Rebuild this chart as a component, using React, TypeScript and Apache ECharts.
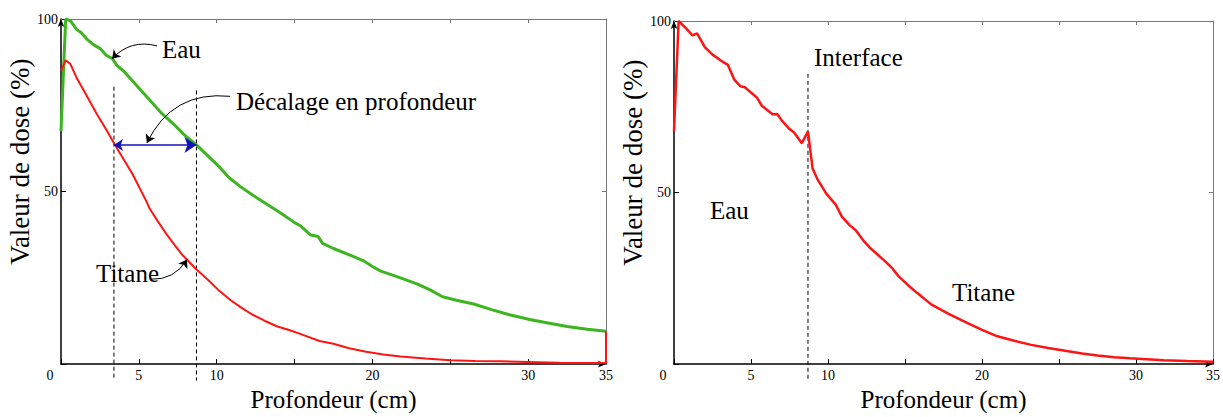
import React, { useEffect, useRef } from "react";
import * as echarts from "echarts";

// ---- data (depth in cm, dose in %) ----
const eauLeft: [number, number][] = [
  [0, 67.5], [0.3, 100], [0.6, 99.5], [1.0, 97], [1.3, 96], [1.7, 94], [2.1, 92.5], [2.5, 91.5],
  [2.9, 89.5], [3.3, 88.5], [3.6, 86.5], [4.0, 85], [4.6, 82], [5.2, 79], [5.9, 75.5], [6.5, 72.5],
  [7.2, 69.7], [7.9, 66.5], [8.7, 63.5], [9.4, 60.5], [10.2, 57], [10.8, 54], [11.5, 51.5], [12.3, 49],
  [13.0, 47], [13.5, 45.5], [14.2, 43.5], [15.0, 41], [15.4, 40], [16.0, 37.5], [16.5, 37], [16.8, 35],
  [17.5, 33.5], [18.6, 31.5], [19.4, 30], [20.0, 28.3], [20.5, 27], [21.8, 25], [22.9, 23.2], [23.7, 21.5],
  [24.5, 19.5], [25.4, 18.5], [26.5, 17.4], [27.7, 15.7], [28.8, 14.3], [30.1, 12.9], [31.2, 12],
  [32.5, 10.9], [33.8, 10.1], [35, 9.5],
];
const titaneLeft: [number, number][] = [
  [0, 85], [0.3, 88], [0.6, 87], [1.0, 83], [1.5, 79], [2.3, 72.5], [2.9, 68], [3.5, 63.3], [4.0, 59.5],
  [4.6, 55], [5.5, 47], [5.7, 45], [6.2, 41.5], [6.8, 37.5], [7.3, 34.5], [7.8, 31.6], [8.7, 27.4],
  [9.4, 24.6], [10.1, 21.5], [10.9, 18.5], [11.6, 16.3], [12.3, 14.3], [13.1, 12.5], [13.9, 10.9],
  [14.7, 9.8], [15.4, 8.7], [16.6, 6.7], [17.5, 5.9], [18.5, 4.6], [19.6, 3.6], [20.7, 2.8], [21.8, 2.2],
  [23.4, 1.6], [25, 1.1], [26.6, 0.9], [28.2, 0.8], [30, 0.6], [32, 0.4], [34.6, 0.3], [35, 0.3], [35, 9.5],
];
const eauTitaneRight: [number, number][] = [
  [0, 67.8], [0.3, 100], [0.8, 97.8], [1.2, 95.8], [1.5, 96.4], [2.0, 92.4], [2.5, 90.2], [3.2, 88],
  [3.5, 87.2], [3.9, 83], [4.3, 81], [4.6, 80.7], [5.4, 77.6], [5.7, 75.3], [6.4, 72.8], [6.7, 72.9],
  [7.0, 71], [7.5, 68.5], [7.8, 67.5], [8.3, 64.4], [8.7, 67.8], [9.0, 57], [9.3, 54], [9.9, 49.6],
  [10.5, 46.5], [10.9, 43], [11.4, 40.5], [11.8, 39], [12.3, 36], [12.7, 34], [13.2, 32], [13.7, 30],
  [14.2, 27.8], [14.6, 25.5], [15.2, 23], [15.8, 20.7], [16.7, 17.4], [17.8, 14.7], [18.9, 12.3],
  [20.0, 10], [21, 8.1], [22.1, 6.8], [23.2, 5.6], [24.3, 4.7], [25.4, 3.9], [26.5, 3.1], [27.5, 2.5],
  [28.6, 2.0], [29.6, 1.7], [30.7, 1.4], [31.8, 1.1], [33.3, 0.9], [35, 0.7],
];
// dashed guide lines [depth, top value, bottom value]
const guidesLeft: [number, number, number][] = [[3.4, 80.4, -4.8], [8.7, 79.3, -4.8]];
const guidesRight: [number, number, number][] = [[8.7, 84.6, -5]];
// depth shift arrow (from, to, dose)
const shiftArrow: [number, number, number] = [3.4, 8.7, 63.5];
// annotation pointer arrows: [[x1,y1],[x2,y2]], curveness
const pointersLeft: { coords: [number, number][]; curv: number }[] = [
  { coords: [[6.17, 92.2], [3.28, 88.5]], curv: -0.3 },
  { coords: [[10.85, 77.6], [5.52, 64.1]], curv: -0.35 },
  { coords: [[5.72, 24.6], [8.09, 30.3]], curv: -0.3 },
];
const xTickLabels = [0, 5, 10, 20, 30, 35];
const yTickLabels = [50, 100];

const FONT = "Liberation Serif, Times New Roman, serif";
const GREEN = "#3cb521";
const RED = "#ff1414";

function makeAxes(gi: number) {
  const bottomX = {
    type: "value", gridIndex: gi, min: 0, max: 35, interval: 5, position: "bottom",
    name: "Profondeur (cm)", nameLocation: "middle", nameGap: 18,
    nameTextStyle: { fontFamily: FONT, fontSize: 25, color: "#000" },
    axisLine: { onZero: false, lineStyle: { color: "#000", width: 1.5 }, symbol: ["none", "arrow"], symbolSize: [5, 8] },
    axisTick: { show: true, inside: true, length: 5, lineStyle: { color: "#000" } },
    axisLabel: {
      fontFamily: FONT, fontSize: 14, color: "#000", margin: 4,
      formatter: (v: number) => (xTickLabels.includes(v) ? (v === 0 ? "{z|0}" : String(v)) : ""),
      rich: { z: { fontFamily: FONT, fontSize: 14, color: "#000", padding: [0, 22, 0, 0] } },
    },
    splitLine: { show: false },
  };
  const topX = {
    type: "value", gridIndex: gi, min: 0, max: 35, interval: 5, position: "top",
    axisLine: { onZero: false, lineStyle: { color: "#777", width: 1 } },
    axisTick: { show: true, inside: true, length: 4, lineStyle: { color: "#777" } },
    axisLabel: { show: false }, splitLine: { show: false },
  };
  const leftY = {
    type: "value", gridIndex: gi, min: 0, max: 100, interval: 50, position: "left",
    name: "Valeur de dose (%)", nameLocation: "middle", nameGap: 28,
    nameTextStyle: { fontFamily: FONT, fontSize: 27, color: "#000", padding: [0, 0, 0, 60] },
    axisLine: { onZero: false, lineStyle: { color: "#000", width: 1.5 }, symbol: ["none", "arrow"], symbolSize: [5, 8] },
    axisTick: { show: true, inside: true, length: 5, lineStyle: { color: "#000" } },
    axisLabel: {
      fontFamily: FONT, fontSize: 14, color: "#000", margin: 3,
      formatter: (v: number) => (yTickLabels.includes(v) ? String(v) : ""),
    },
    splitLine: { show: false },
  };
  const rightY = {
    type: "value", gridIndex: gi, min: 0, max: 100, interval: 50, position: "right",
    axisLine: { onZero: false, lineStyle: { color: "#777", width: 1 } },
    axisTick: { show: true, inside: true, length: 4, lineStyle: { color: "#777" } },
    axisLabel: { show: false }, splitLine: { show: false },
  };
  return { x: [bottomX, topX], y: [leftY, rightY] };
}

function guideSeries(g: [number, number, number][], xi: number, yi: number) {
  return g.map(([x, top, bot]) => ({
    type: "line", xAxisIndex: xi, yAxisIndex: yi, clip: false, symbol: "none", silent: true,
    data: [[x, top], [x, bot]],
    lineStyle: { color: "#000", width: 1, type: [4, 3] }, z: 1,
  }));
}

function textEl(text: string, x: number, y: number) {
  return {
    type: "text", x, y,
    style: { text, fontFamily: FONT, fontSize: 25, fill: "#000", textAlign: "left", textVerticalAlign: "middle" },
  };
}

export default function App() {
  const ref = useRef<HTMLDivElement>(null);
  useEffect(() => {
    document.body.style.margin = "0";
    if (!ref.current) return;
    const chart = echarts.init(ref.current, undefined, { renderer: "svg" });
    const a0 = makeAxes(0);
    const a1 = makeAxes(1);
    const option: any = {
      animation: false,
      backgroundColor: "#fff",
      textStyle: { fontFamily: FONT },
      grid: [
        { left: 61, right: 617, top: 19, bottom: 41 },
        { left: 674, right: 7, top: 21, bottom: 40 },
      ],
      xAxis: [...a0.x, ...a1.x],
      yAxis: [...a0.y, ...a1.y],
      series: [
        ...guideSeries(guidesLeft, 0, 0),
        ...guideSeries(guidesRight, 2, 2),
        {
          type: "line", name: "Eau", xAxisIndex: 0, yAxisIndex: 0, data: eauLeft, symbol: "none",
          lineStyle: { color: GREEN, width: 3 }, z: 3,
        },
        {
          type: "line", name: "Titane", xAxisIndex: 0, yAxisIndex: 0, data: titaneLeft, symbol: "none",
          lineStyle: { color: RED, width: 2 }, z: 3,
        },
        {
          type: "line", name: "Eau / Titane", xAxisIndex: 2, yAxisIndex: 2, data: eauTitaneRight, symbol: "none",
          lineStyle: { color: RED, width: 2.5 }, z: 3,
        },
        {
          type: "lines", coordinateSystem: "cartesian2d", xAxisIndex: 0, yAxisIndex: 0, z: 5,
          symbol: ["arrow", "arrow"], symbolSize: [9, 12],
          lineStyle: { color: "#1414b4", width: 1.5, opacity: 1 },
          data: [{ coords: [[shiftArrow[0], shiftArrow[2]], [shiftArrow[1], shiftArrow[2]]] }],
        },
        {
          type: "lines", coordinateSystem: "cartesian2d", xAxisIndex: 0, yAxisIndex: 0, z: 5,
          symbol: ["none", "arrow"], symbolSize: [5, 8],
          lineStyle: { color: "#000", width: 1, opacity: 1 },
          data: pointersLeft.map((p) => ({ coords: p.coords, lineStyle: { curveness: p.curv } })),
        },
      ],
      graphic: [
        textEl("Eau", 162, 49),
        textEl("Décalage en profondeur", 236, 101),
        textEl("Titane", 96, 273),
        textEl("Interface", 814, 57),
        textEl("Eau", 710, 210),
        textEl("Titane", 952, 292),
      ],
    };
    chart.setOption(option);
    return () => chart.dispose();
  }, []);
  return <div ref={ref} style={{ width: 1223, height: 417 }} />;
}
